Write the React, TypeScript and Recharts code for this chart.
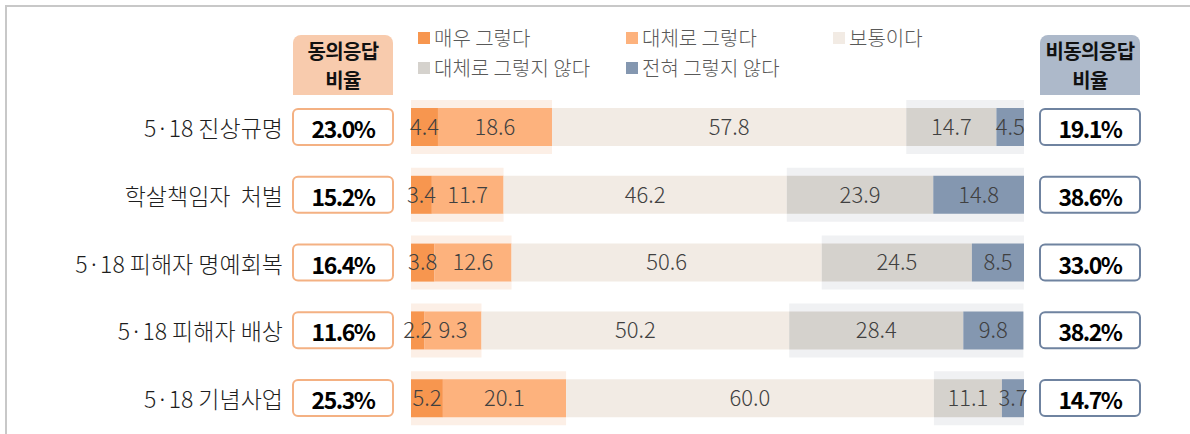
import React from 'react';
import { BarChart, Bar, XAxis, YAxis, LabelList } from 'recharts';

const categories = ['5·18 진상규명', '학살책임자  처벌', '5·18 피해자 명예회복', '5·18 피해자 배상', '5·18 기념사업'];
const veryAgree = [4.4, 3.4, 3.8, 2.2, 5.2];
const agree = [18.6, 11.7, 12.6, 9.3, 20.1];
const neutral = [57.8, 46.2, 50.6, 50.2, 60.0];
const disagree = [14.7, 23.9, 24.5, 28.4, 11.1];
const stronglyDisagree = [4.5, 14.8, 8.5, 9.8, 3.7];
const agreeRate = [23.0, 15.2, 16.4, 11.6, 25.3];
const disagreeRate = [19.1, 38.6, 33.0, 38.2, 14.7];

const seriesNames = ['매우 그렇다', '대체로 그렇다', '보통이다', '대체로 그렇지 않다', '전혀 그렇지 않다'];

const FONT = '"Noto Sans CJK KR", "Noto Sans", sans-serif';

const colors = {
  veryAgree: '#F7964F',
  agree: '#FDB27D',
  neutral: '#F2EBE4',
  disagree: '#D5D2CD',
  stronglyDisagree: '#8497B0',
  haloAgree: '#FCEFE6',
  haloDisagree: '#F0F1F3'
};

const data = categories.map((name, i) => ({
  name,
  veryAgree: veryAgree[i],
  agree: agree[i],
  neutral: neutral[i],
  disagree: disagree[i],
  stronglyDisagree: stronglyDisagree[i],
  haloAgree: veryAgree[i] + agree[i],
  haloGap: neutral[i],
  haloDisagree: disagree[i] + stronglyDisagree[i]
}));

const fmt = (v: any) => Number(v).toFixed(1);

const RowTick = (props: any) => {
  const { y, payload } = props;
  const i = payload.index;
  return (
    <g>
      <text x={283} y={y} textAnchor="end" dominantBaseline="central" fontSize={23} fontWeight={300} fill="#1E1E1E" fontFamily={FONT} style={{ whiteSpace: 'pre' }}>
        {payload.value}
      </text>
      <rect x={293} y={y - 18} width={100} height={36} rx={5} fill="#fff" stroke="#F4B183" strokeWidth={2} />
      <text x={343} y={y + 1} textAnchor="middle" dominantBaseline="central" fontSize={23} fontWeight={700} fill="#000" fontFamily={FONT} letterSpacing={-1.5}>
        {agreeRate[i].toFixed(1)}%
      </text>
      <rect x={1040} y={y - 18} width={100} height={36} rx={5} fill="#fff" stroke="#6F83A0" strokeWidth={2} />
      <text x={1090} y={y + 1} textAnchor="middle" dominantBaseline="central" fontSize={23} fontWeight={700} fill="#000" fontFamily={FONT} letterSpacing={-1.5}>
        {disagreeRate[i].toFixed(1)}%
      </text>
    </g>
  );
};

const legendItems = [
  { name: seriesNames[0], color: colors.veryAgree, x: 418, y: 38 },
  { name: seriesNames[1], color: colors.agree, x: 626, y: 38 },
  { name: seriesNames[2], color: colors.neutral, x: 833, y: 38 },
  { name: seriesNames[3], color: colors.disagree, x: 418, y: 67.5 },
  { name: seriesNames[4], color: colors.stronglyDisagree, x: 626, y: 67.5 }
];

const headerBox: React.CSSProperties = {
  position: 'absolute',
  top: 35,
  width: 100,
  height: 60,
  borderRadius: '8px 8px 0 0'
};

const headerLine: React.CSSProperties = {
  position: 'absolute',
  width: 100,
  height: 28,
  lineHeight: '28px',
  fontFamily: FONT,
  fontWeight: 700,
  fontSize: 20,
  textAlign: 'center',
  color: '#111',
  letterSpacing: -0.6,
  whiteSpace: 'nowrap'
};

const labelProps = { position: 'center' as const, fill: '#404040', fontSize: 22, fontWeight: 300, fontFamily: FONT, formatter: fmt };

export default function App() {
  return (
    <div style={{ position: 'absolute', left: 0, top: 0, width: 1190, height: 434, background: '#fff', overflow: 'hidden' }}>
      <div style={{ position: 'absolute', left: 5, top: 5, width: 1190, height: 440, borderTop: '2px solid #C8C8C8', borderLeft: '2px solid #C8C8C8' }} />
      <div style={{ ...headerBox, left: 293, background: '#F8CBAD' }} />
      <div style={{ ...headerLine, left: 293, top: 37 }}>동의응답</div>
      <div style={{ ...headerLine, left: 293, top: 66 }}>비율</div>
      <div style={{ ...headerBox, left: 1040, background: '#ADB9CA' }} />
      <div style={{ ...headerLine, left: 1040, top: 37 }}>비동의응답</div>
      <div style={{ ...headerLine, left: 1040, top: 66 }}>비율</div>
      {legendItems.map((it) => (
        <div key={it.name} style={{ position: 'absolute', left: it.x, top: it.y - 11, height: 22, lineHeight: '22px', display: 'flex', alignItems: 'center', fontFamily: FONT, fontSize: 20, fontWeight: 300, color: '#595959', whiteSpace: 'nowrap' }}>
          <span style={{ display: 'inline-block', width: 12, height: 12, background: it.color, marginRight: 4 }} />
          {it.name}
        </div>
      ))}
      <div style={{ position: 'absolute', left: 0, top: 0 }}>
        <BarChart width={1190} height={434} data={data} layout="vertical" margin={{ top: 93, right: 166, left: 0, bottom: 2 }}>
          <XAxis type="number" domain={[0, 100]} allowDataOverflow hide />
          <YAxis yAxisId="main" type="category" dataKey="name" width={411} axisLine={false} tickLine={false} tick={<RowTick />} />
          <YAxis yAxisId="halo" type="category" dataKey="name" hide />
          <Bar yAxisId="halo" dataKey="haloAgree" stackId="h" fill={colors.haloAgree} barSize={54} isAnimationActive={false} />
          <Bar yAxisId="halo" dataKey="haloGap" stackId="h" fill="none" barSize={54} isAnimationActive={false} />
          <Bar yAxisId="halo" dataKey="haloDisagree" stackId="h" fill={colors.haloDisagree} barSize={54} isAnimationActive={false} />
          <Bar yAxisId="main" dataKey="veryAgree" stackId="m" fill={colors.veryAgree} barSize={38} isAnimationActive={false}>
            <LabelList dataKey="veryAgree" {...labelProps} />
          </Bar>
          <Bar yAxisId="main" dataKey="agree" stackId="m" fill={colors.agree} barSize={38} isAnimationActive={false}>
            <LabelList dataKey="agree" {...labelProps} />
          </Bar>
          <Bar yAxisId="main" dataKey="neutral" stackId="m" fill={colors.neutral} barSize={38} isAnimationActive={false}>
            <LabelList dataKey="neutral" {...labelProps} />
          </Bar>
          <Bar yAxisId="main" dataKey="disagree" stackId="m" fill={colors.disagree} barSize={38} isAnimationActive={false}>
            <LabelList dataKey="disagree" {...labelProps} />
          </Bar>
          <Bar yAxisId="main" dataKey="stronglyDisagree" stackId="m" fill={colors.stronglyDisagree} barSize={38} isAnimationActive={false}>
            <LabelList dataKey="stronglyDisagree" {...labelProps} />
          </Bar>
        </BarChart>
      </div>
    </div>
  );
}
